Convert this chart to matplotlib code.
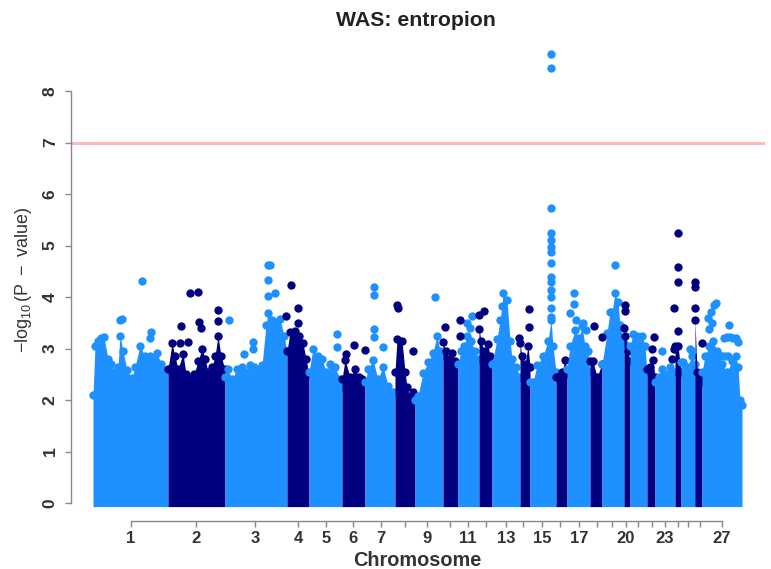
#!/usr/bin/env python3
import matplotlib

matplotlib.use("Agg")
import matplotlib.pyplot as plt

LIGHT = "#1e90ff"
DARK = "#000080"

# upper edge of the dense cloud, one list per chromosome
env_pos = [
    [93, 95, 98, 101, 104, 108, 111, 115, 118, 120, 123, 127, 132, 135, 140, 145, 150, 157, 161, 168],
    [168, 172, 175, 178, 183, 186, 190, 194, 198, 202, 205, 208, 212, 215, 218, 221, 225],
    [225, 228, 232, 237, 242, 246, 250, 254, 258, 262, 266, 268, 272, 276, 280, 284, 287],
    [287, 290, 295, 299, 303, 306, 309],
    [309, 313, 318, 322, 326, 330, 335, 340, 342],
    [342, 345, 350, 355, 359, 362, 365],
    [365, 368, 373, 378, 383, 388, 392, 395],
    [395, 397, 402, 405, 407, 410, 413, 415],
    [415, 418, 423, 428, 433, 437, 440, 443],
    [443, 446, 449, 452, 455, 458],
    [458, 461, 464, 467, 471, 475, 479],
    [479, 481, 484, 488, 490, 492],
    [492, 497, 500, 502, 503, 507, 510, 512, 516, 520],
    [520, 522, 525, 528, 530],
    [530, 533, 537, 543, 548, 551, 553, 556],
    [556, 558, 562, 565, 567],
    [567, 570, 575, 579, 582, 585, 588, 590],
    [590, 593, 597, 602],
    [602, 607, 610, 612, 615, 618, 620, 624],
    [624, 625, 628, 630],
    [630, 633, 637, 642, 645, 647],
    [647, 650, 653, 655],
    [655, 659, 662, 666, 670, 675],
    [675, 678, 681],
    [681, 683, 687, 692, 695, 698],
    [695, 697, 700, 702],
    [702, 705, 709, 713, 717, 722, 727, 732, 736, 738, 740, 742],
]
env_top = [
    [2.1, 3.05, 3.15, 3.2, 3.22, 2.8, 2.7, 2.55, 2.65, 3.25, 2.95, 2.58, 2.42, 2.65, 3.05, 2.85, 2.85, 2.92, 2.7, 2.6],
    [2.6, 3.1, 2.85, 2.6, 2.9, 2.5, 2.4, 2.5, 2.75, 3.0, 2.8, 2.55, 2.65, 2.85, 3.25, 2.85, 2.6],
    [2.45, 2.6, 2.4, 2.6, 2.65, 2.55, 2.68, 2.65, 2.58, 2.68, 3.45, 3.68, 3.55, 3.5, 3.58, 3.25, 2.95],
    [2.95, 3.32, 3.34, 3.25, 3.1, 2.8, 2.5],
    [2.55, 3.0, 2.85, 2.8, 2.55, 2.7, 2.65, 2.4, 2.25],
    [2.4, 2.78, 2.45, 2.6, 2.45, 2.4, 2.35],
    [2.35, 2.6, 2.78, 2.4, 2.65, 2.28, 2.15, 2.15],
    [2.55, 3.18, 3.15, 2.55, 2.25, 2.05, 2.15, 2.0],
    [2.0, 2.08, 2.53, 2.73, 2.92, 3.25, 2.95, 2.85],
    [3.12, 2.95, 2.8, 2.92, 2.75, 2.7],
    [2.7, 2.95, 3.05, 3.25, 3.15, 2.95, 2.8],
    [3.38, 3.15, 2.95, 3.08, 2.85, 2.7],
    [2.7, 3.18, 3.55, 3.83, 4.08, 3.95, 3.15, 2.8, 2.65, 2.45],
    [3.1, 2.85, 2.7, 3.05, 2.65],
    [2.34, 2.35, 2.67, 2.85, 3.15, 3.55, 3.05, 2.55],
    [2.45, 2.45, 2.55, 2.78, 2.5],
    [2.6, 3.05, 3.35, 3.2, 3.44, 3.05, 2.95, 2.55],
    [2.75, 2.75, 2.45, 2.7],
    [2.7, 3.3, 3.7, 3.7, 4.08, 3.9, 3.45, 3.1],
    [3.4, 3.25, 2.95, 2.75],
    [3.05, 3.28, 3.25, 3.25, 3.05, 2.55],
    [2.6, 2.65, 2.78, 2.45],
    [2.35, 2.45, 2.6, 2.5, 2.65, 2.55],
    [3.05, 3.05, 2.55],
    [2.73, 2.73, 2.65, 2.85, 2.7, 2.45],
    [3.55, 2.55, 2.45, 2.35],
    [2.55, 2.85, 3.05, 3.15, 2.95, 2.7, 2.55, 2.75, 2.85, 2.65, 2.0, 1.9],
]

# single points standing above the cloud
light_pos = [
    142, 120, 122, 151, 150, 229, 244, 253, 253, 268, 270, 268, 268, 275,
    337, 337, 374, 374, 374, 374, 383, 435, 472, 467, 470, 551, 551, 551,
    551, 551, 551, 551, 551, 551, 551, 551, 551, 551, 551, 574, 574, 570,
    576, 583, 586, 615, 662, 692, 690, 708, 711, 714, 716, 712, 709, 729,
    724, 727, 730, 733, 736, 738, 718, 722, 725, 728,
]
light_val = [
    4.32, 3.55, 3.57, 3.33, 3.2, 3.55, 2.9, 3.13, 3.0, 4.62, 4.62, 4.33, 4.02, 4.08,
    3.29, 3.03, 4.2, 4.03, 3.38, 3.22, 3.03, 4.0, 3.63, 3.5, 3.4, 8.72, 8.45, 5.72,
    5.24, 5.1, 4.97, 4.87, 4.66, 4.39, 4.29, 4.14, 4.0, 3.79, 3.61, 4.07, 3.87, 3.69,
    3.55, 3.5, 3.35, 4.62, 2.96, 2.95, 3.0, 3.6, 3.7, 3.85, 3.88, 3.5, 3.38, 3.45,
    3.2, 3.22, 3.22, 3.2, 3.2, 3.12, 2.9, 2.85, 2.85, 2.85,
]
dark_pos = [
    181, 180, 188, 190, 198, 199, 201, 218, 218, 291, 298, 286, 298, 346, 354,
    365, 397, 398, 413, 445, 460, 460, 479, 484, 519, 529, 529, 594, 602, 625,
    625, 654, 652, 678, 678, 678, 674, 678, 695, 695, 695, 672, 674, 702,
]
dark_val = [
    3.43, 3.1, 3.12, 4.07, 4.09, 3.52, 3.4, 3.75, 3.53, 4.23, 3.78, 3.63, 3.49, 2.9, 3.07,
    2.97, 3.85, 3.78, 2.95, 3.41, 3.55, 3.25, 3.65, 3.73, 3.2, 3.77, 3.42, 3.44, 3.22, 3.84,
    3.72, 3.22, 3.0, 5.24, 4.58, 4.29, 3.78, 3.34, 4.29, 4.2, 3.78, 2.8, 3.0, 3.1,
]

threshold = 7
y_ticks = [0, 1, 2, 3, 4, 5, 6, 7, 8]
chrom_ticks = [131, 196, 255, 298, 326, 353, 381, 405, 427, 450, 468, 486, 506, 523,
               542, 560, 579, 597, 612, 626, 638, 652, 665, 678, 688, 700, 722]
chrom_labels = ["1", "2", "3", "4", "5", "6", "7", "", "9", "", "11", "", "13", "",
                "15", "", "17", "", "", "20", "", "", "23", "", "", "", "27"]

plt.rcParams["font.family"] = ["Liberation Sans", "DejaVu Sans"]
plt.rcParams["mathtext.fontset"] = "custom"
plt.rcParams["mathtext.rm"] = "Liberation Sans"
plt.rcParams["mathtext.it"] = "Liberation Sans"
plt.rcParams["mathtext.bf"] = "Liberation Sans:bold"
plt.rcParams["mathtext.default"] = "regular"

fig = plt.figure(figsize=(7.71, 5.69), dpi=100)
ax = fig.add_axes([71 / 771, 66 / 569, 694 / 771, 412 / 569])
ax.set_xlim(71, 765)
ax.set_ylim(0, 8)

marker_area = 36
for idx, (pos, top) in enumerate(zip(env_pos, env_top)):
    color = LIGHT if idx % 2 == 0 else DARK
    ax.fill_between(pos, -0.07, top, color=color, lw=0, zorder=2 + idx * 0.01, clip_on=False)
    ax.scatter(pos, top, s=marker_area, color=color, lw=0, zorder=2 + idx * 0.01, clip_on=False)

ax.scatter(light_pos, light_val, s=marker_area, color=LIGHT, lw=0, zorder=3, clip_on=False)
ax.scatter(dark_pos, dark_val, s=marker_area, color=DARK, lw=0, zorder=3.1, clip_on=False)
ax.axhline(threshold, color="#ffb9b9", lw=2.2, zorder=1)

ax.spines["top"].set_visible(False)
ax.spines["right"].set_visible(False)
for side in ["left", "bottom"]:
    ax.spines[side].set_color("#888888")
    ax.spines[side].set_linewidth(1.0)
ax.spines["left"].set_bounds(0, 8)
ax.spines["bottom"].set_position(("outward", 13))
ax.spines["bottom"].set_bounds(chrom_ticks[0], chrom_ticks[-1])

ax.set_yticks(y_ticks)
ax.set_yticklabels(y_ticks, rotation=90, va="center", fontweight="bold", fontsize=12.5, color="#333333")
ax.set_xticks(chrom_ticks)
ax.set_xticklabels(chrom_labels, fontweight="bold", fontsize=12, color="#333333")
ax.tick_params(axis="both", length=4.5, width=1.0, color="#888888")
ax.tick_params(axis="y", pad=5)
ax.tick_params(axis="x", pad=3)

fig.text(416 / 771, 1 - 20 / 569, "WAS: entropion", ha="center", va="center",
         fontsize=15.3, fontweight="bold", color="#222222")
fig.text(417 / 771, 1 - 560 / 569, "Chromosome", ha="center", va="center",
         fontsize=14.3, fontweight="bold", color="#333333")
fig.text(24 / 771, 1 - 280 / 569, r"$-\log_{10}(P\ -\ value)$", rotation=90, ha="center",
         va="center", fontsize=13, color="#333333")

fig.savefig("out.png", dpi=100)
